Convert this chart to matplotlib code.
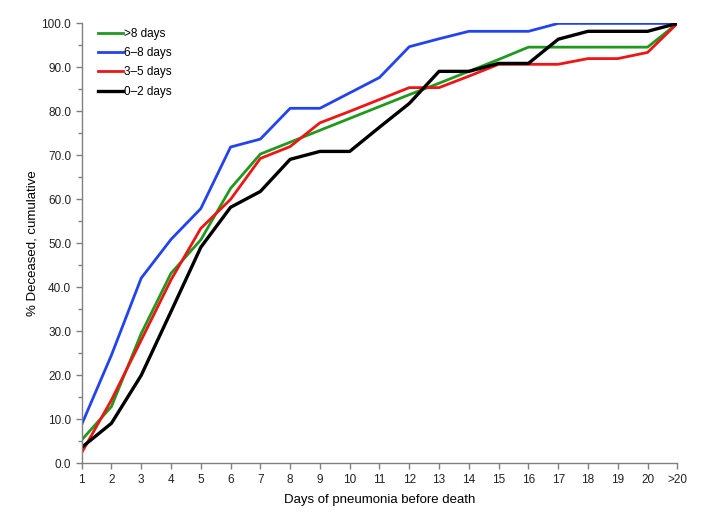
import matplotlib.pyplot as plt
from matplotlib.ticker import MultipleLocator

plt.rcParams['font.family'] = ['Liberation Sans', 'DejaVu Sans']

days = list(range(1, 22))
day_labels = [str(d) for d in range(1, 21)] + ['>20']

# cumulative % deceased by duration of illness before pneumonia
over8 = [5.3, 12.9, 29.5, 43.2, 50.8, 62.5, 70.3, 73.0, 75.7, 78.4, 81.1, 83.8,
         86.4, 89.1, 91.8, 94.6, 94.6, 94.6, 94.6, 94.6, 100.0]
d6_8 = [8.8, 24.6, 42.1, 50.9, 57.9, 71.9, 73.7, 80.7, 80.7, 84.2, 87.7, 94.7,
        96.5, 98.2, 98.2, 98.2, 100.0, 100.0, 100.0, 100.0, 100.0]
d3_5 = [2.4, 14.4, 28.0, 41.7, 53.4, 60.0, 69.3, 72.0, 77.4, 80.0, 82.7, 85.4,
        85.4, 88.0, 90.7, 90.7, 90.7, 92.0, 92.0, 93.4, 100.0]
d0_2 = [3.6, 9.1, 20.0, 34.5, 49.1, 58.2, 61.8, 69.1, 70.9, 70.9, 76.4, 81.8,
        89.1, 89.1, 90.9, 90.9, 96.4, 98.2, 98.2, 98.2, 100.0]

fig = plt.figure(figsize=(7.1, 5.2), dpi=100)
ax = fig.add_axes([0.115, 0.109, 0.839, 0.846])

ax.plot(days, over8, color='#1f9a1f', lw=2.0, label='>8 days')
ax.plot(days, d6_8, color='#2243f0', lw=2.0, label='6\u20138 days')
ax.plot(days, d3_5, color='#ee1515', lw=2.0, label='3\u20135 days')
ax.plot(days, d0_2, color='black', lw=2.4, label='0\u20132 days')

ax.set_xlim(1, 21)
ax.set_ylim(0, 100)
ax.set_xticks(days)
ax.set_xticklabels(day_labels)
ax.yaxis.set_major_locator(MultipleLocator(10))
ax.yaxis.set_minor_locator(MultipleLocator(5))
ax.yaxis.set_major_formatter(plt.FormatStrFormatter('%.1f'))

for s in ['top', 'right']:
    ax.spines[s].set_visible(False)
for s in ['left', 'bottom']:
    ax.spines[s].set_color('#808080')
    ax.spines[s].set_linewidth(1.0)
ax.tick_params(which='both', direction='out', color='#808080', width=1.0,
               labelsize=8.5, labelcolor='#222222', pad=3.5)
ax.tick_params(which='major', length=4)
ax.tick_params(which='minor', length=3)

ax.set_xlabel('Days of pneumonia before death', fontsize=9.5, labelpad=6)
ax.set_ylabel('% Deceased, cumulative', fontsize=9.5, labelpad=2)

ax.legend(loc='upper left', bbox_to_anchor=(0.027, 0.99), frameon=False,
          fontsize=8.5, handlelength=2.1, handletextpad=0.15,
          labelspacing=0.62, borderaxespad=0, borderpad=0)

fig.savefig('out.png', dpi=100)
